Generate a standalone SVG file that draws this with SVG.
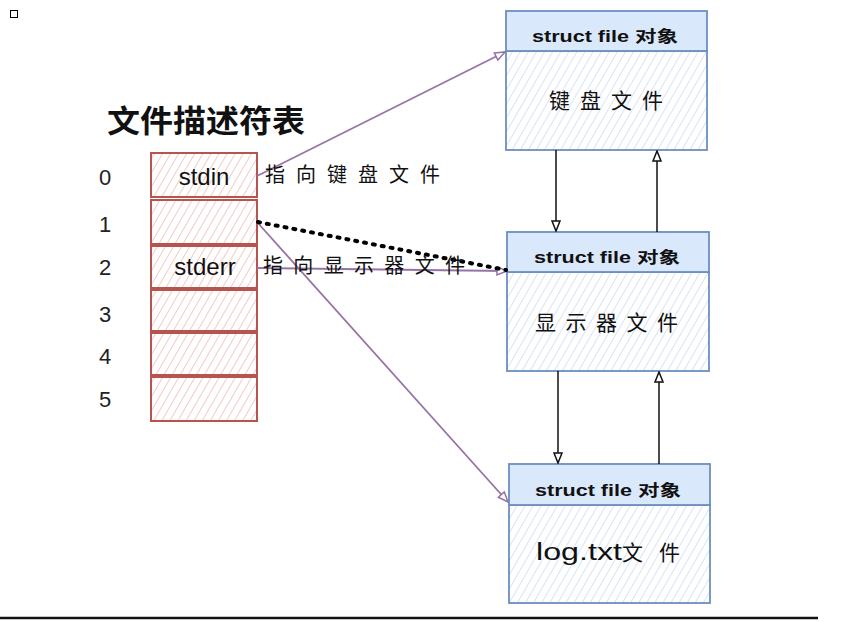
<svg xmlns="http://www.w3.org/2000/svg" width="841" height="622" viewBox="0 0 841 622">
<style>
.cell{stroke:#b85450;stroke-width:2;fill:url(#hr)}
.hdr{fill:#dae8fc;stroke:#6c8ebf;stroke-width:1.8}
.body{fill:url(#hb);stroke:#6c8ebf;stroke-width:1.8}
.t{font-family:"Liberation Sans","Noto Sans CJK SC",sans-serif;fill:#111}
.cjk{font-family:"Noto Sans CJK SC","Liberation Sans",sans-serif;fill:#111}
.idx{font-family:"Liberation Sans",sans-serif;font-size:22px;fill:#222;text-anchor:middle}
.pl{stroke:#9673a6;stroke-width:1.8;fill:none;marker-end:url(#ap)}
.bl{stroke:#111;stroke-width:1.5;fill:none;marker-end:url(#ab)}
</style>
<defs>
<pattern id="hr" width="7" height="7" patternUnits="userSpaceOnUse" patternTransform="rotate(30)">
<rect width="7" height="7" fill="#fff"/>
<line x1="0" y1="0" x2="0" y2="7" stroke="#eda6a4" stroke-width="1.2"/>
</pattern>
<pattern id="hb" width="7" height="7" patternUnits="userSpaceOnUse" patternTransform="rotate(30)">
<rect width="7" height="7" fill="#fff"/>
<line x1="0" y1="0" x2="0" y2="7" stroke="#bdd0f0" stroke-width="1.2"/>
</pattern>
<marker id="ap" viewBox="0 0 12 10" refX="11" refY="5" markerWidth="12" markerHeight="10" markerUnits="userSpaceOnUse" orient="auto">
<path d="M1,1 L11,5 L1,9 Z" fill="#fff" stroke="#9673a6" stroke-width="1.5"/>
</marker>
<marker id="ab" viewBox="0 0 12 10" refX="11" refY="5" markerWidth="12" markerHeight="10" markerUnits="userSpaceOnUse" orient="auto">
<path d="M1,1 L11,5 L1,9 Z" fill="#fff" stroke="#111" stroke-width="1.5"/>
</marker>
</defs>
<rect x="0" y="0" width="841" height="622" fill="#fff"/>
<rect x="10.5" y="10.5" width="7" height="7" fill="none" stroke="#000" stroke-width="1"/>

<g id="title"><text class="cjk" x="107" y="132" font-size="31" font-weight="bold" textLength="198" lengthAdjust="spacingAndGlyphs">文件描述符表</text></g>

<g id="indices">
<text class="idx" x="105" y="185">0</text>
<text class="idx" x="105" y="232">1</text>
<text class="idx" x="105" y="275">2</text>
<text class="idx" x="105" y="322">3</text>
<text class="idx" x="105" y="364">4</text>
<text class="idx" x="105" y="407">5</text>
</g>

<g id="fd0"><rect class="cell" x="151" y="153" width="106" height="44"/><text class="t" x="204" y="185" font-size="24" text-anchor="middle">stdin</text></g>
<g id="fd1"><rect class="cell" x="151" y="200" width="106" height="44"/></g>
<g id="fd2"><rect class="cell" x="151" y="246" width="106" height="42"/><text class="t" x="205" y="275" font-size="24" text-anchor="middle">stderr</text></g>
<g id="fd3"><rect class="cell" x="151" y="290" width="106" height="41"/></g>
<g id="fd4"><rect class="cell" x="151" y="333" width="106" height="42"/></g>
<g id="fd5"><rect class="cell" x="151" y="377" width="106" height="44"/></g>

<g id="file1">
<rect class="body" x="506" y="51" width="201" height="99"/>
<rect class="hdr" x="506" y="11" width="201" height="40"/>
<text class="t" x="532" y="42" font-size="16" font-weight="bold" textLength="146" lengthAdjust="spacingAndGlyphs">struct file 对象</text>
<text class="cjk" x="549" y="108" font-size="21" textLength="114" lengthAdjust="spacing">键盘文件</text>
</g>
<g id="file2">
<rect class="body" x="507" y="272" width="202" height="99"/>
<rect class="hdr" x="507" y="232" width="202" height="40"/>
<text class="t" x="534" y="263" font-size="16" font-weight="bold" textLength="146" lengthAdjust="spacingAndGlyphs">struct file 对象</text>
<text class="cjk" x="535" y="330" font-size="21" textLength="143" lengthAdjust="spacing">显示器文件</text>
</g>
<g id="file3">
<rect class="body" x="509" y="505" width="201" height="98"/>
<rect class="hdr" x="509" y="464" width="201" height="41"/>
<text class="t" x="535" y="496" font-size="16" font-weight="bold" textLength="146" lengthAdjust="spacingAndGlyphs">struct file 对象</text>
<text class="t" x="536" y="560" font-size="23" textLength="86" lengthAdjust="spacingAndGlyphs">log.txt</text>
<text class="cjk" x="622" y="560" font-size="21" textLength="58" lengthAdjust="spacing">文件</text>
</g>

<g id="connectors">
<path class="pl" d="M257,176 L505,52"/>
<path class="pl" d="M257,268 L507,271"/>
<path class="pl" d="M257,222 L508,502"/>
<path d="M258,222 L506,270" stroke="#000" stroke-width="4" stroke-dasharray="2 7" stroke-linecap="round" fill="none"/>
<path class="bl" d="M556,150 L556,231"/>
<path class="bl" d="M657,232 L657,151"/>
<path class="bl" d="M558,371 L558,463"/>
<path class="bl" d="M659,464 L659,372"/>
</g>

<g id="labels">
<text class="cjk" x="265" y="182" font-size="20" textLength="175" lengthAdjust="spacing">指向键盘文件</text>
<text class="cjk" x="263" y="273" font-size="20" textLength="202" lengthAdjust="spacing">指向显示器文件</text>
</g>

<line x1="0" y1="618" x2="818" y2="618" stroke="#111" stroke-width="2.5"/>
</svg>
